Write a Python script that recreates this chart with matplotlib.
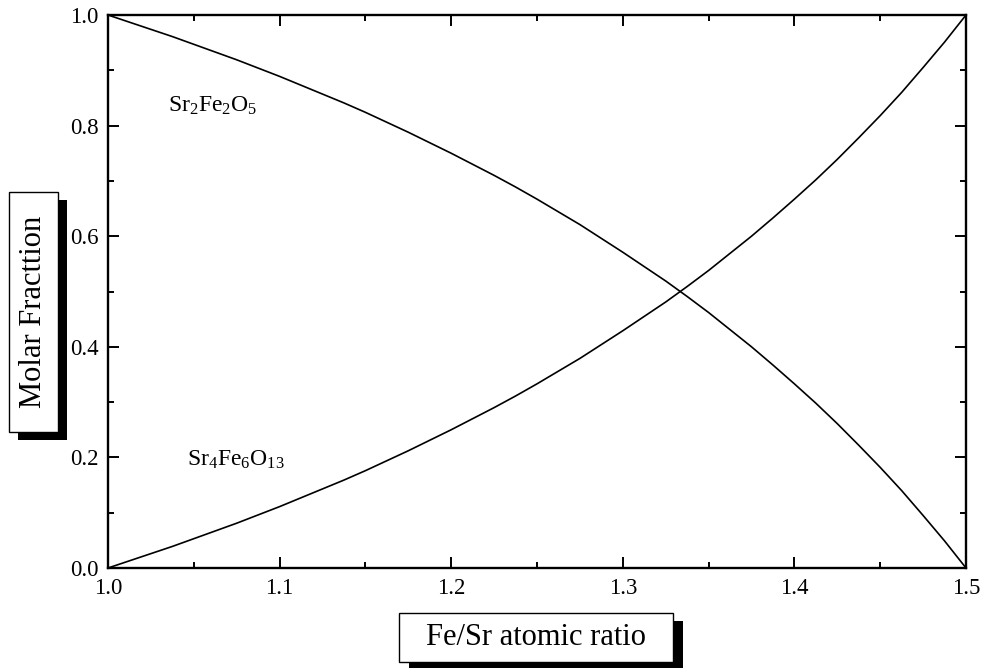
import matplotlib
matplotlib.use("Agg")
import matplotlib.pyplot as plt
from matplotlib.patches import Rectangle
from matplotlib.ticker import MultipleLocator

plt.rcParams['font.family'] = ['Liberation Serif', 'DejaVu Serif']
plt.rcParams['mathtext.fontset'] = 'custom'
plt.rcParams['mathtext.rm'] = 'Liberation Serif'
plt.rcParams['mathtext.it'] = 'Liberation Serif:italic'

# Data
fe_sr_ratio = [1.0000, 1.0125, 1.0250, 1.0375, 1.0500, 1.0625, 1.0750, 1.0875,
               1.1000, 1.1125, 1.1250, 1.1375, 1.1500, 1.1625, 1.1750, 1.1875,
               1.2000, 1.2125, 1.2250, 1.2375, 1.2500, 1.2625, 1.2750, 1.2875,
               1.3000, 1.3125, 1.3250, 1.3375, 1.3500, 1.3625, 1.3750, 1.3875,
               1.4000, 1.4125, 1.4250, 1.4375, 1.4500, 1.4625, 1.4750, 1.4875,
               1.5000]
frac_sr4fe6o13 = [0.000, 0.013, 0.026, 0.039, 0.053, 0.067, 0.081, 0.096,
                  0.111, 0.127, 0.143, 0.159, 0.176, 0.194, 0.212, 0.231,
                  0.250, 0.270, 0.290, 0.311, 0.333, 0.356, 0.379, 0.404,
                  0.429, 0.455, 0.481, 0.509, 0.538, 0.569, 0.600, 0.633,
                  0.667, 0.702, 0.739, 0.778, 0.818, 0.860, 0.905, 0.951,
                  1.000]
frac_sr2fe2o5 = [1.000, 0.987, 0.974, 0.961, 0.947, 0.933, 0.919, 0.904,
                 0.889, 0.873, 0.857, 0.841, 0.824, 0.806, 0.788, 0.769,
                 0.750, 0.730, 0.710, 0.689, 0.667, 0.644, 0.621, 0.596,
                 0.571, 0.545, 0.519, 0.491, 0.462, 0.431, 0.400, 0.367,
                 0.333, 0.298, 0.261, 0.222, 0.182, 0.140, 0.095, 0.049,
                 0.000]
x_ticks = [1.0, 1.1, 1.2, 1.3, 1.4, 1.5]
y_ticks = [0.0, 0.2, 0.4, 0.6, 0.8, 1.0]

W, H = 981, 668
fig = plt.figure(figsize=(W / 100, H / 100), dpi=100)
fig.patch.set_facecolor('white')

L, R, T, B = 108, 966, 15, 568
ax = fig.add_axes([L / W, (H - B) / H, (R - L) / W, (B - T) / H])

ax.plot(fe_sr_ratio, frac_sr2fe2o5, color='black', lw=1.2)
ax.plot(fe_sr_ratio, frac_sr4fe6o13, color='black', lw=1.2)

ax.set_xlim(1.0, 1.5)
ax.set_ylim(0.0, 1.0)
ax.set_xticks(x_ticks)
ax.set_yticks(y_ticks)
ax.set_xticklabels([f"{v:.1f}" for v in x_ticks])
ax.set_yticklabels([f"{v:.1f}" for v in y_ticks])
ax.xaxis.set_minor_locator(MultipleLocator(0.05))
ax.yaxis.set_minor_locator(MultipleLocator(0.1))
ax.tick_params(which='both', direction='in', top=True, right=True,
               width=1.4, labelsize=16.5, pad=7)
ax.tick_params(which='major', length=8)
ax.tick_params(which='minor', length=4.5)
for s in ax.spines.values():
    s.set_linewidth(1.7)

ax.text(1.035, 0.825, r'$\mathrm{Sr_2Fe_2O_5}$', fontsize=17)
ax.text(1.046, 0.185, r'$\mathrm{Sr_4Fe_6O_{13}}$', fontsize=17)


def shadow_box(x0, y0, x1, y1, dx, dy, text, rot):
    # pixel coords from top-left
    fx = lambda px: px / W
    fy = lambda py: (H - py) / H
    fig.add_artist(Rectangle((fx(x0 + dx), fy(y1 + dy)), (x1 - x0) / W, (y1 - y0) / H,
                             transform=fig.transFigure, facecolor='black',
                             edgecolor='black', lw=0, zorder=5))
    fig.add_artist(Rectangle((fx(x0), fy(y1)), (x1 - x0) / W, (y1 - y0) / H,
                             transform=fig.transFigure, facecolor='white',
                             edgecolor='black', lw=1.0, zorder=6))
    fig.text(fx((x0 + x1) / 2), fy((y0 + y1) / 2), text, rotation=rot,
             ha='center', va='center', fontsize=22, zorder=7)


shadow_box(9, 192, 58, 432, 9, 8, 'Molar Fracttion', 90)
shadow_box(399, 613, 673, 662, 10, 8, 'Fe/Sr atomic ratio', 0)

fig.savefig('out.png', dpi=100)
